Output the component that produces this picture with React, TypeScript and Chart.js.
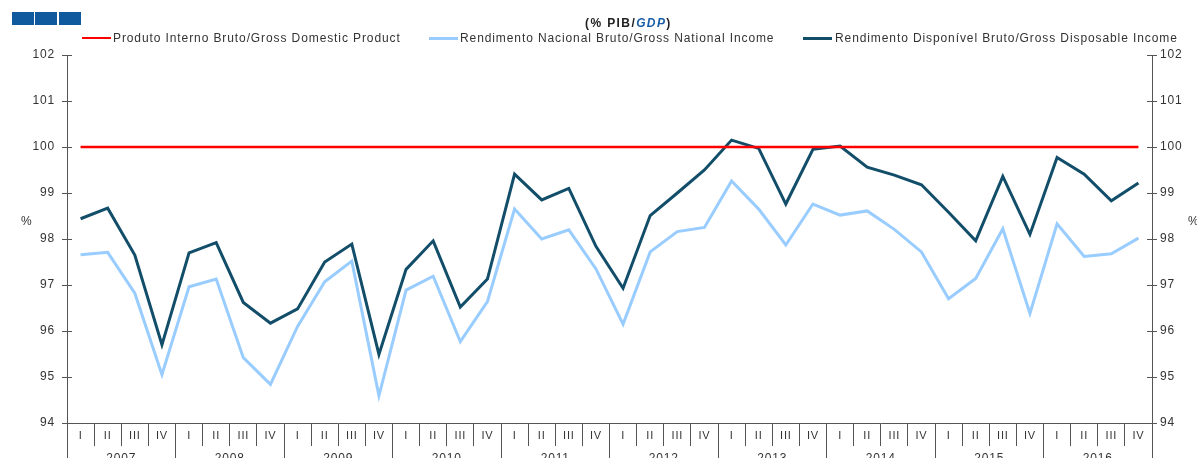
import React, { useEffect, useRef } from "react";
import { Chart, registerables } from "chart.js";

Chart.register(...registerables);

const years = ["2007", "2008", "2009", "2010", "2011", "2012", "2013", "2014", "2015", "2016"];
const quarterNames = ["I", "II", "III", "IV"];
const periods = years.flatMap((y) => quarterNames.map((q) => `${y} ${q}`));

const gdp = [
  100, 100, 100, 100, 100, 100, 100, 100, 100, 100,
  100, 100, 100, 100, 100, 100, 100, 100, 100, 100,
  100, 100, 100, 100, 100, 100, 100, 100, 100, 100,
  100, 100, 100, 100, 100, 100, 100, 100, 100, 100,
];
const gni = [
  97.66, 97.71, 96.82, 95.05, 96.96, 97.13, 95.42, 94.84,
  96.10, 97.07, 97.52, 94.59, 96.89, 97.19, 95.77, 96.64,
  98.65, 98.00, 98.20, 97.35, 96.15, 97.72, 98.16, 98.25,
  99.26, 98.65, 97.87, 98.76, 98.52, 98.61, 98.21, 97.72,
  96.70, 97.14, 98.22, 96.38, 98.33, 97.62, 97.68, 98.02,
];
const gdi = [
  98.44, 98.67, 97.65, 95.70, 97.70, 97.92, 96.62, 96.17,
  96.48, 97.50, 97.89, 95.49, 97.34, 97.96, 96.52, 97.13,
  99.41, 98.85, 99.10, 97.84, 96.93, 98.51, 99.00, 99.50,
  100.15, 99.97, 98.76, 99.95, 100.02, 99.56, 99.39, 99.18,
  98.58, 97.96, 99.36, 98.10, 99.77, 99.41, 98.83, 99.22,
];
const yMin = 94;
const yMax = 102;

const FONT = "'Liberation Sans', Arial, Helvetica, sans-serif";
const AXIS = "#555555";
const TEXT = "#333333";
const RED = "#ff0000";
const LIGHT = "#99ccff";
const DARK = "#124e69";

export default function App() {
  const ref = useRef<HTMLCanvasElement>(null);

  useEffect(() => {
    const canvas = ref.current!;
    Chart.defaults.font.family = FONT;

    const spacing = {
      id: "spacing",
      beforeDraw(c: any) {
        c.ctx.letterSpacing = "0.8px";
      },
    };
    const innerTicks = {
      id: "innerTicks",
      afterDraw(c: any) {
        const { ctx, chartArea } = c;
        const y = c.scales.y;
        ctx.save();
        ctx.strokeStyle = AXIS;
        ctx.lineWidth = 1;
        y.ticks.forEach((t: any) => {
          const py = Math.round(y.getPixelForValue(t.value)) + 0.5;
          ctx.beginPath();
          ctx.moveTo(chartArea.left, py);
          ctx.lineTo(chartArea.left + 5, py);
          ctx.moveTo(chartArea.right - 5, py);
          ctx.lineTo(chartArea.right, py);
          ctx.stroke();
        });
        ctx.restore();
      },
    };

    const chart = new Chart(canvas, {
      type: "line",
      data: {
        labels: periods,
        datasets: [
          { label: "Produto Interno Bruto/Gross Domestic Product", data: gdp, borderColor: RED, backgroundColor: RED, borderWidth: 2.5, pointRadius: 0, tension: 0 },
          { label: "Rendimento Nacional Bruto/Gross National Income", data: gni, borderColor: LIGHT, backgroundColor: LIGHT, borderWidth: 3, pointRadius: 0, tension: 0 },
          { label: "Rendimento Disponível Bruto/Gross Disposable Income", data: gdi, borderColor: DARK, backgroundColor: DARK, borderWidth: 3, pointRadius: 0, tension: 0 },
        ],
      },
      options: {
        responsive: false,
        animation: false,
        devicePixelRatio: 1,
        layout: { padding: { top: 55, left: 0, right: 0, bottom: 0 } },
        plugins: {
          legend: { display: false },
          title: { display: false },
          tooltip: { enabled: false },
        },
        scales: {
          x: {
            type: "category",
            position: "bottom",
            offset: true,
            weight: 0,
            grid: { offset: true, drawOnChartArea: false, tickLength: 23, color: AXIS },
            border: { display: true, color: AXIS },
            ticks: {
              autoSkip: false,
              maxRotation: 0,
              padding: -17,
              color: TEXT,
              font: { size: 11 },
              callback: (_v: any, i: number) => quarterNames[i % 4],
            },
            afterFit: (s: any) => {
              s.height = 23;
            },
          },
          x2: {
            type: "category",
            position: "bottom",
            labels: years,
            offset: true,
            weight: 1,
            grid: { offset: true, drawOnChartArea: false, tickLength: 12, color: AXIS },
            border: { display: false },
            ticks: { autoSkip: false, maxRotation: 0, padding: -7, color: TEXT, font: { size: 12 } },
            afterFit: (s: any) => {
              s.height = 12;
            },
          },
          y: {
            position: "left",
            min: yMin,
            max: yMax,
            ticks: { stepSize: 1, padding: 7, color: TEXT, font: { size: 12 } },
            grid: { drawOnChartArea: false, tickLength: 5, color: AXIS },
            border: { display: true, color: AXIS },
            afterFit: (s: any) => {
              s.width = 67;
            },
          },
          y1: {
            position: "right",
            min: yMin,
            max: yMax,
            ticks: { stepSize: 1, padding: 3, color: TEXT, font: { size: 12 } },
            grid: { drawOnChartArea: false, tickLength: 5, color: AXIS },
            border: { display: true, color: AXIS },
            afterFit: (s: any) => {
              s.width = 45;
            },
          },
        },
      } as any,
      plugins: [spacing, innerTicks],
    });
    return () => chart.destroy();
  }, []);

  const textStyle: React.CSSProperties = {
    position: "absolute",
    fontFamily: FONT,
    fontSize: 12,
    color: TEXT,
    letterSpacing: "0.9px",
    whiteSpace: "nowrap",
    lineHeight: "14px",
  };
  const legendItems = [
    { label: "Produto Interno Bruto/Gross Domestic Product", color: RED, lx: 82, tx: 113, h: 2 },
    { label: "Rendimento Nacional Bruto/Gross National Income", color: LIGHT, lx: 429, tx: 460, h: 3 },
    { label: "Rendimento Disponível Bruto/Gross Disposable Income", color: DARK, lx: 803, tx: 835, h: 3 },
  ];

  return (
    <div style={{ position: "absolute", left: 0, top: 0, width: 1197, height: 458, background: "#fff", overflow: "hidden" }}>
      <canvas ref={ref} width={1197} height={458} style={{ position: "absolute", left: 0, top: 0 }} />
      {[12, 35, 59].map((x) => (
        <div key={x} style={{ position: "absolute", left: x, top: 12, width: 22, height: 13, background: "#0f5a9e" }} />
      ))}
      <div style={{ ...textStyle, left: 585, top: 16, fontWeight: "bold", fontSize: 12, letterSpacing: "1.4px", color: "#222" }}>
        (% PIB/<span style={{ color: "#1a5ea8", fontStyle: "italic" }}>GDP</span>)
      </div>
      {legendItems.map((it) => (
        <React.Fragment key={it.label}>
          <div style={{ position: "absolute", left: it.lx, top: 38 - Math.floor(it.h / 2), width: 29, height: it.h, background: it.color }} />
          <div style={{ ...textStyle, left: it.tx, top: 31 }}>{it.label}</div>
        </React.Fragment>
      ))}
      <div style={{ ...textStyle, left: 21, top: 214 }}>%</div>
      <div style={{ ...textStyle, left: 1188, top: 214 }}>%</div>
    </div>
  );
}
